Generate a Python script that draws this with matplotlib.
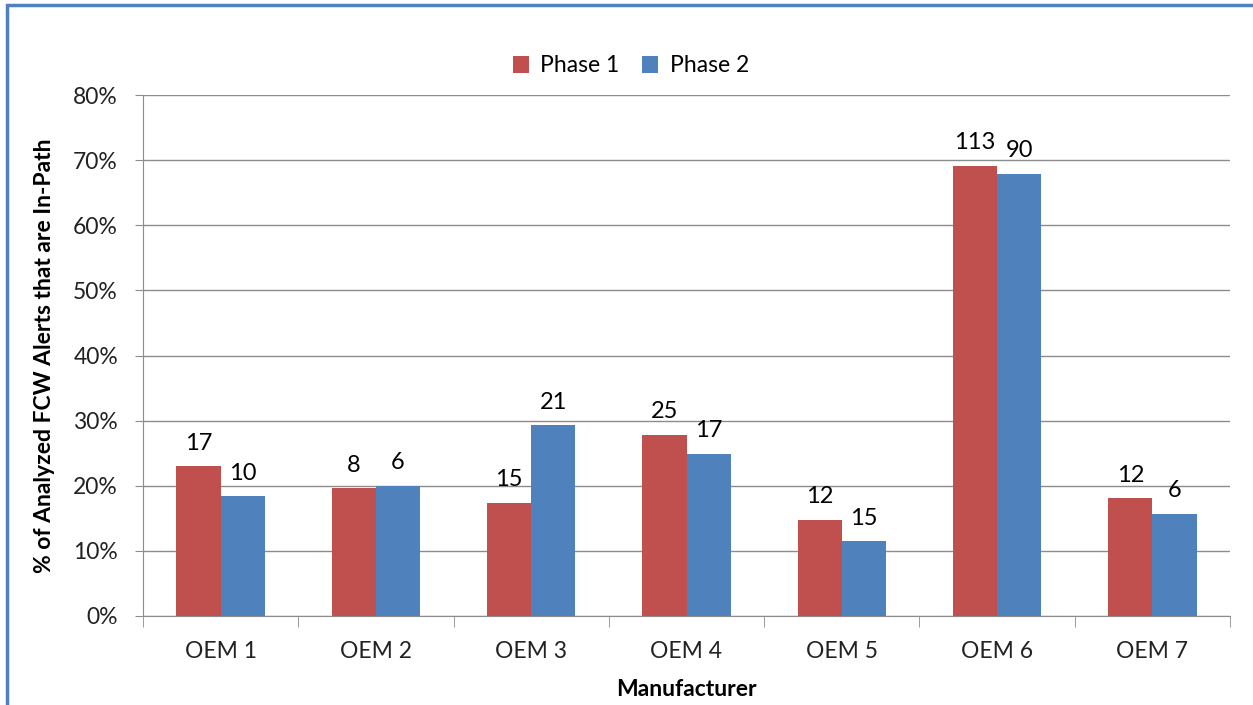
import matplotlib.pyplot as plt
from matplotlib.patches import Rectangle
from matplotlib.ticker import FuncFormatter, MultipleLocator
import numpy as np

# Datos por fabricante
manufacturers = ["OEM 1", "OEM 2", "OEM 3", "OEM 4", "OEM 5", "OEM 6", "OEM 7"]
phase1_pct = [23.0, 19.6, 17.4, 27.8, 14.8, 69.1, 18.1]
phase2_pct = [18.4, 20.0, 29.3, 24.9, 11.5, 67.9, 15.7]
phase1_counts = [17, 8, 15, 25, 12, 113, 12]
phase2_counts = [10, 6, 21, 17, 15, 90, 6]

RED = "#C0504D"
BLUE = "#4F81BD"
GRID = "#8C8C8C"
FS = 16.5

plt.rcParams["font.family"] = ["Lato", "DejaVu Sans"]

fig = plt.figure(figsize=(12.53, 7.05), dpi=100)
ax = fig.add_axes([143 / 1253, 1 - 616 / 705, (1230 - 143) / 1253, (616 - 95) / 705])

x = np.arange(len(manufacturers))
w = 0.285
b1 = ax.bar(x - w / 2, phase1_pct, w, color=RED, label="Phase 1", zorder=3)
b2 = ax.bar(x + w / 2, phase2_pct, w, color=BLUE, label="Phase 2", zorder=3)

# Etiquetas con el numero de alertas sobre cada barra
for bars, counts in ((b1, phase1_counts), (b2, phase2_counts)):
    for rect, n in zip(bars, counts):
        ax.annotate(str(n), (rect.get_x() + rect.get_width() / 2, rect.get_height()),
                    xytext=(0, 9), textcoords="offset points", ha="center", va="bottom",
                    fontsize=17, color="black")

ax.set_xlim(-0.5, len(manufacturers) - 0.5)
ax.set_ylim(0, 80)
ax.yaxis.set_major_locator(MultipleLocator(10))
ax.yaxis.set_major_formatter(FuncFormatter(lambda v, p: "{:.0f}%".format(v)))
ax.grid(axis="y", color=GRID, linewidth=1, zorder=0)

ax.set_xticks(x)
ax.set_xticklabels(manufacturers)
ax.set_xticks(np.arange(-0.5, len(manufacturers)), minor=True)
ax.tick_params(axis="x", which="major", length=0, pad=18, labelsize=FS, colors="#222222")
ax.tick_params(axis="x", which="minor", length=8, color=GRID, direction="out")
ax.tick_params(axis="y", length=6, color=GRID, labelcolor="#222222", labelsize=FS, pad=12)

for side in ("top", "right"):
    ax.spines[side].set_visible(False)
for side in ("left", "bottom"):
    ax.spines[side].set_color(GRID)
    ax.spines[side].set_zorder(4)

ax.set_xlabel("Manufacturer", fontsize=FS, fontweight="bold")
ax.set_ylabel("% of Analyzed FCW Alerts that are In-Path", fontsize=FS, fontweight="bold")
ax.xaxis.set_label_coords(0.5, -0.12)
ax.yaxis.set_label_coords(-0.081, 0.5)

fig.legend(handles=[b1, b2], loc="center", bbox_to_anchor=(631 / 1253, 1 - 66 / 705),
           ncol=2, frameon=False, fontsize=FS, handlelength=0.7, handleheight=0.7,
           handletextpad=0.5, columnspacing=1.0)

# Marco azul del grafico
fig.patches.append(Rectangle((7 / 1253, -0.1), 1.2, 1.1 - 5 / 705,
                             transform=fig.transFigure, fill=False,
                             edgecolor="#4F81BD", linewidth=2.5))

fig.savefig("out.png", dpi=100)
